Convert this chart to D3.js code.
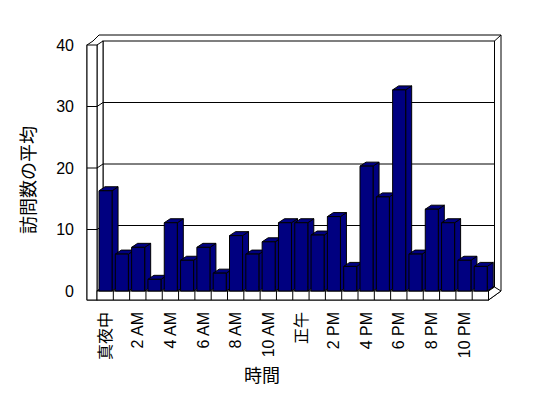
<!DOCTYPE html>
<html>
<head>
<meta charset="utf-8">
<script src="https://cdn.jsdelivr.net/npm/d3@7"></script>
<style>
body { margin: 0; background: #fff; }
text { font-family: "Liberation Sans", "Noto Sans CJK JP", sans-serif; fill: #000; }
</style>
</head>
<body>
<script>
// hours of the day, average visits per hour, tick labels
var hours = ["真夜中", "1 AM", "2 AM", "3 AM", "4 AM", "5 AM", "6 AM", "7 AM", "8 AM", "9 AM", "10 AM", "11 AM",
             "正午", "1 PM", "2 PM", "3 PM", "4 PM", "5 PM", "6 PM", "7 PM", "8 PM", "9 PM", "10 PM", "11 PM"];
var visits = [16.3, 6.0, 7.1, 1.9, 11.1, 5.0, 7.1, 2.9, 9.0, 6.0, 8.0, 11.1,
              11.1, 9.1, 12.1, 4.0, 20.3, 15.3, 32.7, 6.0, 13.3, 11.1, 5.0, 4.0];
var yTicks = [0, 10, 20, 30, 40];
var xTickLabels = ["真夜中", "2 AM", "4 AM", "6 AM", "8 AM", "10 AM", "正午", "2 PM", "4 PM", "6 PM", "8 PM", "10 PM"];
var yTitle = "訪問数の平均";
var xTitle = "時間";

// plot geometry (front plane) and 3d depth offset
var pLeft = 97, pRight = 488.5, pBase = 291, pTop = 45;
var dx = 6, dy = -4;
var wall = 10, floorH = 9;

var x = d3.scaleBand().domain(hours).range([pLeft, pRight]);
var y = d3.scaleLinear().domain([0, 40]).range([pBase, pTop]);

var svg = d3.select("body").append("svg")
    .attr("width", 548)
    .attr("height", 398);

function pts(a) { return a.map(function(p) { return p.join(","); }).join(" "); }

var frame = svg.append("g")
    .attr("fill", "#fff")
    .attr("stroke", "#000")
    .attr("stroke-width", 1);

// outer outline (wall thickness at the back)
frame.append("polygon")
    .attr("points", pts([[pLeft - wall, pTop], [pLeft - wall + dx, pTop + dy], [pLeft - wall + 2 * dx, pTop + dy - 6],
                         [pRight + dx + 6.5, pTop + dy - 6], [pRight + dx + 6.5, pBase], [pRight, pBase + floorH],
                         [pLeft - wall, pBase + floorH]]));

// back wall face
frame.append("rect")
    .attr("x", pLeft + dx).attr("y", y(40) + dy)
    .attr("width", pRight - pLeft).attr("height", y(0) - y(40));
frame.append("line")
    .attr("x1", pRight + dx).attr("y1", y(40) + dy)
    .attr("x2", pRight + dx + 6.5).attr("y2", pTop + dy - 6);

// left wall inner face
frame.append("polygon")
    .attr("points", pts([[pLeft, pTop], [pLeft + dx, pTop + dy], [pLeft + dx, pBase + dy], [pLeft, pBase]]));
// left wall front face
frame.append("rect")
    .attr("x", pLeft - wall).attr("y", pTop)
    .attr("width", wall).attr("height", pBase + floorH - pTop);

// floor top, right side, front
frame.append("polygon")
    .attr("points", pts([[pLeft, pBase], [pRight, pBase], [pRight + dx, pBase + dy], [pLeft + dx, pBase + dy]]));
frame.append("polygon")
    .attr("points", pts([[pRight, pBase], [pRight + dx, pBase + dy], [pRight + dx + 6.5, pBase], [pRight, pBase + floorH]]));
frame.append("rect")
    .attr("x", pLeft).attr("y", pBase)
    .attr("width", pRight - pLeft).attr("height", floorH);

// gridlines on walls
var grid = svg.append("g").attr("stroke", "#000").attr("fill", "none");
yTicks.filter(function(v) { return v > 0 && v < 40; }).forEach(function(v) {
    grid.append("line")
        .attr("x1", pLeft + dx).attr("y1", y(v) + dy)
        .attr("x2", pRight + dx).attr("y2", y(v) + dy);
    grid.append("line")
        .attr("x1", pLeft).attr("y1", y(v))
        .attr("x2", pLeft + dx).attr("y2", y(v) + dy);
    grid.append("line")
        .attr("x1", pLeft - wall).attr("y1", y(v))
        .attr("x2", pLeft).attr("y2", y(v));
});

// category ticks on floor front
grid.selectAll(".ctick")
    .data(hours.slice(1).concat(["end"]))
    .enter().append("line")
    .attr("class", "ctick")
    .attr("x1", function(d) { return d == "end" ? pRight : x(d); })
    .attr("x2", function(d) { return d == "end" ? pRight : x(d); })
    .attr("y1", pBase).attr("y2", pBase + floorH);

// bars
var bw = x.bandwidth() * 0.8, off = 2;
var bars = svg.selectAll(".bar")
    .data(hours.map(function(h, i) { return {hour: h, value: visits[i]}; }))
    .enter().append("g")
    .attr("class", "bar")
    .attr("fill", "#000080")
    .attr("stroke", "#000")
    .attr("stroke-linejoin", "round");

bars.append("polygon")
    .attr("points", function(d) {
        var x0 = x(d.hour) + off + bw, y0 = y(d.value);
        return pts([[x0, y0], [x0 + dx, y0 + dy], [x0 + dx, pBase + dy], [x0, pBase]]);
    });
bars.append("polygon")
    .attr("points", function(d) {
        var x0 = x(d.hour) + off, y0 = y(d.value);
        return pts([[x0, y0], [x0 + dx, y0 + dy], [x0 + bw + dx, y0 + dy], [x0 + bw, y0]]);
    });
bars.append("rect")
    .attr("x", function(d) { return x(d.hour) + off; })
    .attr("y", function(d) { return y(d.value); })
    .attr("width", bw)
    .attr("height", function(d) { return pBase - y(d.value); });

// y axis labels
var yAxis = svg.append("g")
    .attr("transform", "translate(" + (pLeft - wall) + ",0)")
    .call(d3.axisLeft(y).tickValues(yTicks).tickSize(0).tickPadding(13));
yAxis.select(".domain").remove();
yAxis.selectAll("text")
    .style("font-family", "'Liberation Sans', sans-serif")
    .style("font-size", "16px");

// x axis labels
var xAxis = svg.append("g")
    .attr("transform", "translate(0," + (pBase + floorH) + ")")
    .call(d3.axisBottom(x).tickValues(xTickLabels).tickSize(0));
xAxis.select(".domain").remove();
xAxis.selectAll("text")
    .style("font-family", "'Liberation Sans', 'Noto Sans CJK JP', sans-serif")
    .style("font-size", "16px")
    .attr("transform", "rotate(-90)")
    .attr("text-anchor", "end")
    .attr("x", -12)
    .attr("y", 0)
    .attr("dy", "0.35em");

// axis titles
svg.append("text")
    .attr("transform", "translate(29,180) rotate(-90)")
    .attr("text-anchor", "middle")
    .attr("dy", "0.35em")
    .style("font-size", "18px")
    .text(yTitle);

svg.append("text")
    .attr("x", 262)
    .attr("y", 382)
    .attr("text-anchor", "middle")
    .style("font-size", "18px")
    .text(xTitle);
</script>
</body>
</html>
